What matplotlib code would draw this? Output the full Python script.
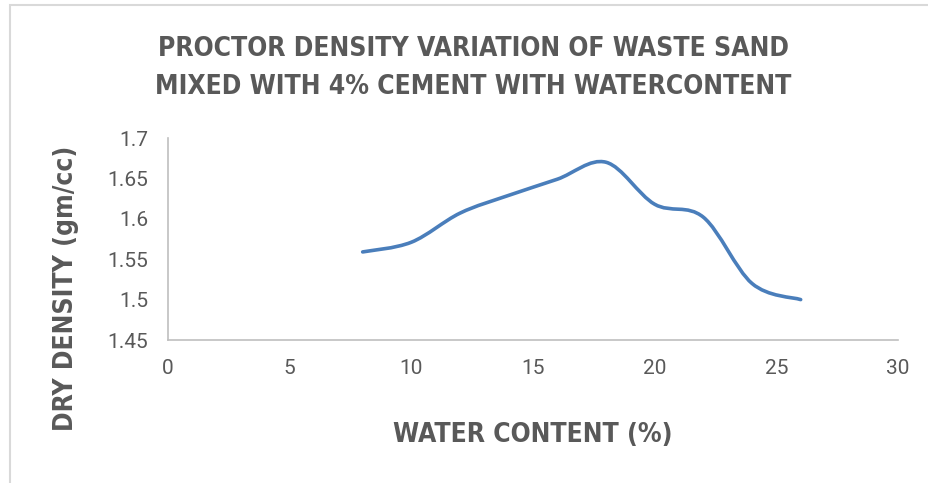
import numpy as np
import matplotlib
matplotlib.use('Agg')
import matplotlib.pyplot as plt
from matplotlib import font_manager
from matplotlib.path import Path
from matplotlib.patches import PathPatch, Rectangle

water = [8, 10, 12, 14, 16, 18, 20, 22, 24, 26]
density = [1.559, 1.571, 1.607, 1.629, 1.649, 1.670, 1.618, 1.602, 1.520, 1.500]

title = 'PROCTOR DENSITY VARIATION OF WASTE SAND\nMIXED WITH 4% CEMENT WITH WATERCONTENT'
xlabel = 'WATER CONTENT (%)'
ylabel = 'DRY DENSITY (gm/cc)'
xticks = [0, 5, 10, 15, 20, 25, 30]
yticks = [1.45, 1.5, 1.55, 1.6, 1.65, 1.7]
ytick_labels = ['1.45', '1.5', '1.55', '1.6', '1.65', '1.7']


def smooth_path(x, y):
  # excel-like smoothing: bezier segments, control points from neighbours
  x = np.asarray(x, float)
  y = np.asarray(y, float)
  n = len(x)
  verts = [(x[0], y[0])]
  codes = [Path.MOVETO]
  for i in range(n - 1):
    p0 = i - 1 if i > 0 else i
    p3 = i + 2 if i + 2 < n else i + 1
    c1 = (x[i] + (x[i + 1] - x[p0]) / 6, y[i] + (y[i + 1] - y[p0]) / 6)
    c2 = (x[i + 1] - (x[p3] - x[i]) / 6, y[i + 1] - (y[p3] - y[i]) / 6)
    verts += [c1, c2, (x[i + 1], y[i + 1])]
    codes += [Path.CURVE4] * 3
  return Path(verts, codes)


def find_narrow_bold():
  # look for an installed condensed / narrow bold face
  best = None
  for f in font_manager.fontManager.ttflist:
    name = (f.name + ' ' + f.fname).lower()
    narrow = ('narrow' in name or 'condensed' in name or 'cond' in name
              or f.stretch in ('condensed', 'semi-condensed', 'extra-condensed'))
    if not narrow or 'italic' in name or 'oblique' in name:
      continue
    if 'extra' in name or 'ultra' in name or 'semi' in name:
      continue
    w = f.weight if isinstance(f.weight, int) else 400
    score = -abs(w - 700)
    if best is None or score > best[0]:
      best = (score, f.fname)
  if best is None:
    return font_manager.FontProperties(family='DejaVu Sans', weight='bold')
  return font_manager.FontProperties(fname=best[1])


grey = '#595959'
bold_fp = find_narrow_bold()

fig = plt.figure(figsize=(9.29, 4.83), dpi=100)
ax = fig.add_axes([168 / 929, 1 - 340 / 483, (898 - 168) / 929, (340 - 138) / 483])

ax.add_patch(PathPatch(smooth_path(water, density), facecolor='none',
                       edgecolor='#4a7ebb', lw=2.6, capstyle='round'))

ax.set_xlim(0, 30)
ax.set_ylim(1.45, 1.7)
ax.set_xticks(xticks)
ax.set_yticks(yticks)
ax.set_yticklabels(ytick_labels)
ax.tick_params(length=0, labelsize=15, labelcolor=grey, pad=14)
for lab in ax.get_xticklabels() + ax.get_yticklabels():
  lab.set_fontfamily('Roboto')
for s in ['top', 'right']:
  ax.spines[s].set_visible(False)
for s in ['left', 'bottom']:
  ax.spines[s].set_color('#bfbfbf')
  ax.spines[s].set_linewidth(1.2)

fig.text(473 / 929, 1 - 68 / 483, title, ha='center', va='center', fontproperties=bold_fp,
         fontsize=19, color=grey, linespacing=1.58)
fig.text(533 / 929, 1 - 435 / 483, xlabel, ha='center', va='center',
         fontproperties=bold_fp, fontsize=19, color=grey)
fig.text(66 / 929, 1 - 288 / 483, ylabel, ha='center', va='center',
         fontproperties=bold_fp, fontsize=19, color=grey, rotation=90)

# light frame of the chart area
fig.patches.append(Rectangle((10 / 929, -0.05), 1.1, 1 - 5 / 483 + 0.05,
                             transform=fig.transFigure, fill=False,
                             edgecolor='#d9d9d9', lw=1.5))

fig.savefig('out.png', dpi=100)
